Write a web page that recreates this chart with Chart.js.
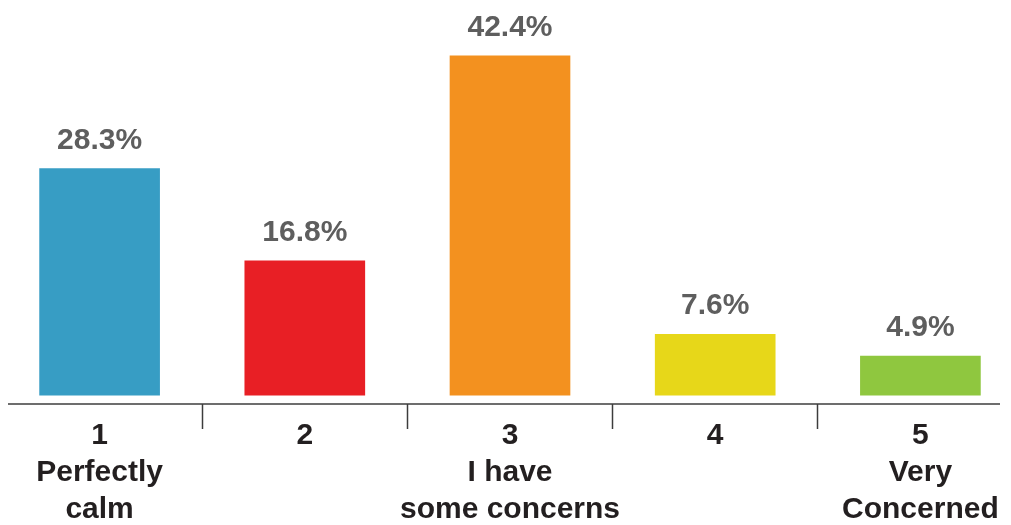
<!DOCTYPE html>
<html>
<head>
<meta charset="utf-8">
<title>Level of concern</title>
<script src="https://cdn.jsdelivr.net/npm/chart.js@4.4.1/dist/chart.umd.min.js"></script>
<style>
  html, body { margin: 0; padding: 0; background: #fff; overflow: hidden; }
  /* a bit wider than the window so the five columns spread edge to edge */
  #wrap { position: absolute; left: -3px; top: 0; width: 1026px; height: 525px; }
</style>
</head>
<body>
<div id="wrap"><canvas id="concernChart"></canvas></div>
<script>
// Survey answers, 1 = calm .. 5 = very concerned
const categories = [
    ['1', 'Perfectly', 'calm'],
    ['2'],
    ['3', 'I have', 'some concerns'],
    ['4'],
    ['5', 'Very', 'Concerned']
];
const shares = [28.3, 16.8, 42.4, 7.6, 4.9];
const barColors = ['#379dc4', '#e81f25', '#f3911f', '#e7d719', '#8fc73f'];

const fontFamily = '"Liberation Sans", Arial, Helvetica, sans-serif';

// percentage printed above each bar
const valueLabels = {
    id: 'valueLabels',
    afterDatasetsDraw(chart) {
        const ctx = chart.ctx;
        const meta = chart.getDatasetMeta(0);
        ctx.save();
        ctx.font = 'bold 30px ' + fontFamily;
        ctx.fillStyle = '#5e5e5e';
        ctx.textAlign = 'center';
        ctx.textBaseline = 'alphabetic';
        meta.data.forEach((bar, i) => {
            ctx.fillText(shares[i].toFixed(1) + '%', bar.x, bar.y - 20);
        });
        ctx.restore();
    }
};

// short baseline under the bars
const baseLine = {
    id: 'baseLine',
    afterDraw(chart) {
        const ctx = chart.ctx;
        const y = chart.chartArea.bottom;
        ctx.save();
        ctx.strokeStyle = '#3c3c3c';
        ctx.lineWidth = 1.5;
        ctx.beginPath();
        ctx.moveTo(11, y);
        ctx.lineTo(1003, y);
        ctx.stroke();
        ctx.restore();
    }
};

const ctx = document.getElementById('concernChart').getContext('2d');
const concernChart = new Chart(ctx, {
    type: 'bar',
    data: {
        labels: categories,
        datasets: [{
            data: shares,
            backgroundColor: barColors,
            borderWidth: 0,
            barThickness: 120
        }]
    },
    options: {
        responsive: true,
        maintainAspectRatio: false,
        animation: false,
        layout: {
            padding: { top: 35, left: 0, right: 0, bottom: 0 }
        },
        plugins: {
            legend: { display: false },
            tooltip: { enabled: false }
        },
        scales: {
            x: {
                afterFit(axis) { axis.height = 121; },
                border: { display: false },
                grid: {
                    offset: true,
                    drawOnChartArea: false,
                    drawTicks: true,
                    tickLength: 25,
                    tickWidth: 1.5,
                    tickColor: '#3c3c3c'
                },
                ticks: {
                    padding: -12,
                    color: '#231f20',
                    maxRotation: 0,
                    autoSkip: false,
                    font: { family: fontFamily, size: 30, weight: 'bold', lineHeight: 1.233 }
                }
            },
            y: {
                display: false,
                min: -1.1,
                max: 45
            }
        }
    },
    plugins: [valueLabels, baseLine]
});
</script>
</body>
</html>
